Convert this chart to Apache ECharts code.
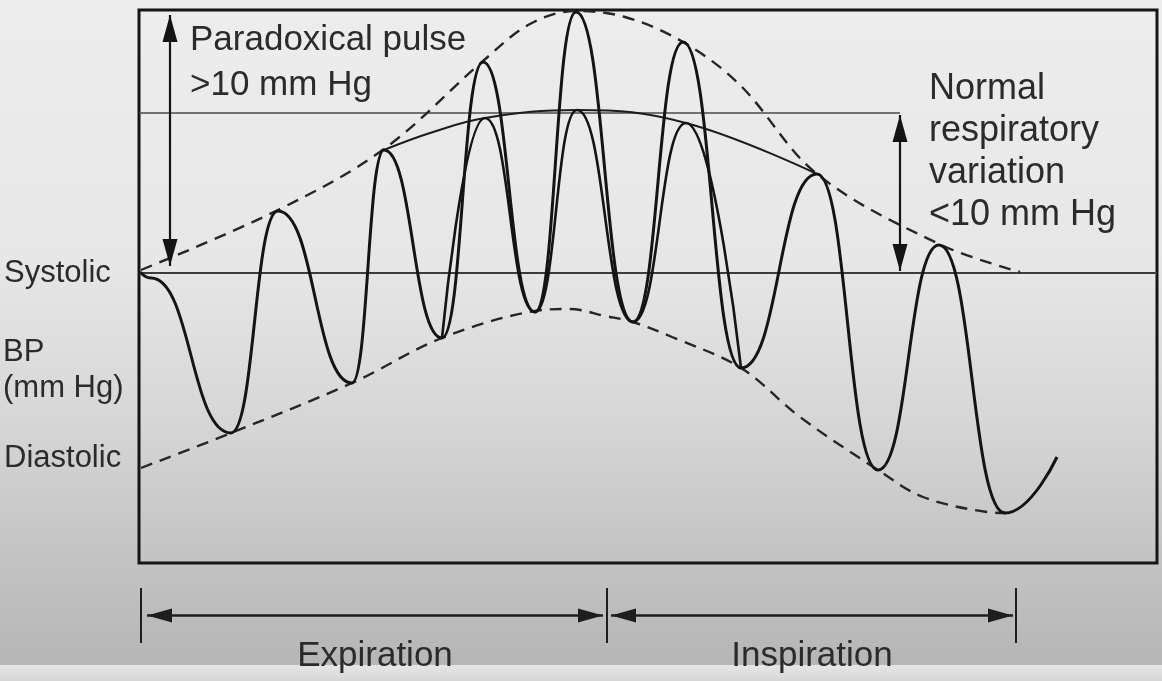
<!DOCTYPE html>
<html>
<head>
<meta charset="utf-8">
<title>Paradoxical pulse</title>
<script src="https://cdn.jsdelivr.net/npm/echarts@6/dist/echarts.min.js"></script>
<style>
  html, body { margin: 0; padding: 0; }
  body {
    width: 1162px; height: 681px; overflow: hidden;
    background: linear-gradient(to bottom, #ededed 0%, #e7e7e7 38%, #d6d6d6 62%, #c3c3c3 82%, #b6b6b6 97.6%, #e6e6e6 97.7%, #d6d6d6 100%);
  }
  #chart { width: 1162px; height: 681px; }
</style>
</head>
<body>
<div id="chart"></div>
<script>
// x: time across the box (0 .. 1018), y: pressure above the box floor (0 .. 553)
const systolicLevel = 290;
const diastolicLevel = 95;
const normalTopLevel = 450;

// pressure trace, read at its peaks and troughs
const pulseOuter = [
  [1, 291], [12, 285], [92, 130], [139, 352], [213, 180], [245, 413], [303, 225],
  [344, 501], [396, 251], [437, 551], [494, 241], [544, 521], [602, 195],
  [678, 389], [739, 93], [800, 318], [866, 50], [918, 106]
];
// lower beats drawn over the tall ones in the middle
const pulseInner = [
  [303, 225], [346, 445], [396, 251], [438, 453], [494, 241], [547, 440], [602, 195]
];
const upperEnvelope = [
  [2, 293], [139, 353], [245, 414], [344, 502], [391, 539], [437, 552], [486, 546],
  [544, 521], [601, 478], [678, 389], [800, 319], [881, 291]
];
const lowerEnvelope = [
  [2, 95], [92, 130], [213, 180], [303, 225], [396, 252], [431, 254], [466, 247],
  [494, 241], [533, 226], [602, 195], [661, 146], [739, 93], [784, 66], [848, 51], [866, 50]
];
const normalArc = [[245, 413], [291, 430], [346, 445], [438, 453], [547, 440], [678, 389]];

// double arrows [x, yFrom, yTo]
const paradoxArrow = [31, 548, 297];
const normalArrow = [761, 448, 292];

// respiratory phases along the bottom
const phaseBounds = [2, 468, 877];
const phaseArrows = [[8, 464], [472, 874]];
const phaseNames = ['Expiration', 'Inspiration'];

const FONT = '"Liberation Sans", Arial, Helvetica, sans-serif';
const INK = '#141414';
const TEXT = '#2b2b2b';

const chart = echarts.init(document.getElementById('chart'));

const option = {
  animation: false,
  backgroundColor: 'transparent',
  grid: [
    { left: 139, top: 10, width: 1018, height: 553, show: true, borderColor: INK, borderWidth: 3, backgroundColor: 'transparent' },
    { left: 139, top: 588, width: 1018, height: 55 }
  ],
  xAxis: [
    { type: 'value', gridIndex: 0, min: 0, max: 1018, show: false },
    { type: 'value', gridIndex: 1, min: 0, max: 1018, show: false }
  ],
  yAxis: [
    {
      type: 'value', gridIndex: 0, min: 0, max: 553,
      axisLine: { show: false }, axisTick: { show: false }, splitLine: { show: false },
      axisLabel: {
        customValues: [systolicLevel, diastolicLevel],
        align: 'left',
        margin: 135,
        color: TEXT,
        fontSize: 31,
        fontFamily: FONT,
        formatter: function (v) {
          return v === systolicLevel ? 'Systolic' : '{d|Diastolic}';
        },
        rich: {
          d: { fontSize: 31, fontFamily: FONT, color: TEXT, padding: [0, 0, 20, 0] }
        }
      }
    },
    { type: 'value', gridIndex: 1, min: 0, max: 1, show: false }
  ],
  graphic: [
    {
      type: 'text', left: 190, top: 18,
      style: { text: 'Paradoxical pulse\n>10 mm Hg', fontSize: 35, fontFamily: FONT, lineHeight: 45, fill: TEXT }
    },
    {
      type: 'text', left: 929, top: 68,
      style: { text: 'Normal\nrespiratory\nvariation\n<10 mm Hg', fontSize: 36, fontFamily: FONT, lineHeight: 42, fill: TEXT }
    },
    {
      type: 'text', left: 3, top: 334,
      style: { text: 'BP\n(mm Hg)', fontSize: 31, fontFamily: FONT, lineHeight: 36, fill: TEXT }
    }
  ],
  series: [
    {
      type: 'line', data: [[0, systolicLevel], [1018, systolicLevel]],
      symbol: 'none', silent: true,
      lineStyle: { color: '#3c3c3c', width: 1.8 }
    },
    {
      type: 'line', data: [[0, normalTopLevel], [normalArrow[0], normalTopLevel]],
      symbol: 'none', silent: true,
      lineStyle: { color: '#4a4a4a', width: 1.6 }
    },
    {
      type: 'line', data: upperEnvelope, smooth: 0.35, symbol: 'none', silent: true,
      lineStyle: { color: '#262626', width: 2.4, type: [12, 8] }
    },
    {
      type: 'line', data: lowerEnvelope, smooth: 0.35, symbol: 'none', silent: true,
      lineStyle: { color: '#262626', width: 2.4, type: [12, 8] }
    },
    {
      type: 'line', data: normalArc, smooth: 0.4, symbol: 'none', silent: true,
      lineStyle: { color: '#1c1c1c', width: 2 }
    },
    {
      type: 'line', data: pulseInner, smooth: 0.5, smoothMonotone: 'x', symbol: 'none', silent: true,
      lineStyle: { color: INK, width: 2.6 }, z: 4
    },
    {
      type: 'line', data: pulseOuter, smooth: 0.5, smoothMonotone: 'x', symbol: 'none', silent: true,
      lineStyle: { color: INK, width: 3 }, z: 5
    },
    {
      // the two measuring arrows
      type: 'line', data: [], silent: true,
      markLine: {
        silent: true,
        symbol: ['triangle', 'triangle'],
        symbolSize: [15, 27],
        symbolOffset: [[0, '50%'], [0, '50%']],
        itemStyle: { color: INK },
        lineStyle: { color: INK, width: 2.2, type: 'solid' },
        label: { show: false },
        emphasis: { disabled: true },
        data: [
          [{ coord: [paradoxArrow[0], paradoxArrow[1]] }, { coord: [paradoxArrow[0], paradoxArrow[2]] }],
          [{ coord: [normalArrow[0], normalArrow[1]] }, { coord: [normalArrow[0], normalArrow[2]] }]
        ]
      }
    },
    {
      // phase boundaries
      type: 'line', xAxisIndex: 1, yAxisIndex: 1, data: [], silent: true,
      markLine: {
        silent: true,
        symbol: 'none',
        lineStyle: { color: '#1e1e1e', width: 2, type: 'solid' },
        label: { show: false },
        emphasis: { disabled: true },
        data: phaseBounds.map(function (b) { return { xAxis: b }; })
      }
    },
    {
      // phase arrows with their names
      type: 'line', xAxisIndex: 1, yAxisIndex: 1, data: [], silent: true,
      markLine: {
        silent: true,
        symbol: ['triangle', 'triangle'],
        symbolSize: [14, 25],
        symbolOffset: [[0, '50%'], [0, '50%']],
        itemStyle: { color: '#1e1e1e' },
        lineStyle: { color: '#1e1e1e', width: 2.6, type: 'solid' },
        label: {
          show: true,
          position: 'insideMiddleBottom',
          distance: 23,
          color: TEXT,
          fontSize: 35,
          fontFamily: FONT,
          formatter: function (p) { return phaseNames[p.dataIndex]; }
        },
        emphasis: { disabled: true },
        data: phaseArrows.map(function (a) {
          return [{ coord: [a[0], 0.5] }, { coord: [a[1], 0.5] }];
        })
      }
    }
  ]
};

chart.setOption(option);
</script>
</body>
</html>
